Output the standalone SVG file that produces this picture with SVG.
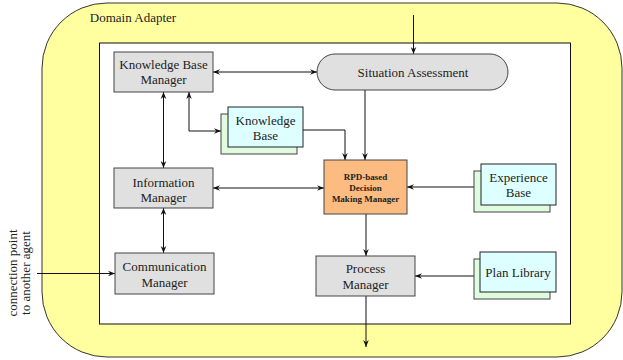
<svg xmlns="http://www.w3.org/2000/svg" width="623" height="360" viewBox="0 0 623 360">
<defs>
<style>
text{font-family:"Liberation Serif","Times New Roman",serif;font-size:13px;fill:#222;text-anchor:middle}
.box{fill:#e0e0e0;stroke:#444;stroke-width:1}
.front{fill:#ddffff;stroke:#222;stroke-width:1}
.back{fill:#e0fbe0;stroke:#444;stroke-width:1}
.rpd{fill:#fcbb80;stroke:#444;stroke-width:1}
.b{font-weight:bold;font-size:9px}
.c{fill:none;stroke:#111;stroke-width:1}
.a{marker-end:url(#ah)}
.d{marker-start:url(#ah);marker-end:url(#ah)}
</style>
<marker id="ah" viewBox="0 0 8 8" refX="8" refY="4" markerWidth="7" markerHeight="7" markerUnits="userSpaceOnUse" orient="auto-start-reverse">
<path d="M0,0.8 L8,4 L0,7.2 L2.6,4 Z" fill="#111"/>
</marker>
</defs>
<g id="domain-adapter">
<rect x="42" y="3" width="580" height="354" rx="65" ry="65" fill="#ffff9f" stroke="#333" stroke-width="1"/>
<text x="133" y="22" style="text-anchor:middle">Domain Adapter</text>
<rect x="99.5" y="43" width="471" height="281" fill="#fff" stroke="#111" stroke-width="1"/>
</g>
<g id="connectors">
<path class="c a" d="M413.5,15 V54"/>
<path class="c d" d="M213,72 H317"/>
<path class="c d" d="M163.5,92 V168"/>
<path class="c d" d="M189,92 V131 H221"/>
<path class="c a" d="M303,130 H345 V160"/>
<path class="c a" d="M365,90 V160"/>
<path class="c d" d="M213,188 H324"/>
<path class="c a" d="M474,187 H407"/>
<path class="c d" d="M163.5,208 V253"/>
<path class="c a" d="M37,273.5 H115"/>
<path class="c a" d="M366,214 V256"/>
<path class="c a" d="M474,276 H415"/>
<path class="c a" d="M366,296 V347"/>
</g>
<g id="kb-manager">
<rect class="box" x="114" y="52" width="99" height="40"/>
<text x="163.5" y="69">Knowledge Base</text>
<text x="163.5" y="84">Manager</text>
</g>
<g id="situation-assessment">
<rect class="box" x="317" y="54" width="191" height="36" rx="18" ry="18"/>
<text x="413" y="77">Situation Assessment</text>
</g>
<g id="knowledge-base">
<rect class="back" x="221" y="114" width="76" height="40"/>
<rect class="front" x="228" y="107" width="75" height="40"/>
<text x="265.5" y="125">Knowledge</text>
<text x="265.5" y="139.5">Base</text>
</g>
<g id="rpd-manager">
<rect class="rpd" x="324" y="160" width="83" height="54"/>
<text class="b" x="365.5" y="180">RPD-based</text>
<text class="b" x="365.5" y="191">Decision</text>
<text class="b" x="365.5" y="202">Making Manager</text>
</g>
<g id="experience-base">
<rect class="back" x="474" y="171" width="76" height="41"/>
<rect class="front" x="481" y="164" width="75" height="41"/>
<text x="518.5" y="182">Experience</text>
<text x="518.5" y="197">Base</text>
</g>
<g id="information-manager">
<rect class="box" x="114" y="168" width="99" height="40"/>
<text x="163.5" y="187">Information</text>
<text x="163.5" y="201.5">Manager</text>
</g>
<g id="communication-manager">
<rect class="box" x="115" y="253" width="99" height="41"/>
<text x="164.5" y="271">Communication</text>
<text x="164.5" y="287">Manager</text>
</g>
<g id="process-manager">
<rect class="box" x="316" y="256" width="99" height="40"/>
<text x="365.5" y="273">Process</text>
<text x="365.5" y="288.5">Manager</text>
</g>
<g id="plan-library">
<rect class="back" x="474" y="259" width="76" height="40"/>
<rect class="front" x="480" y="252" width="76" height="40"/>
<text x="518" y="277">Plan Library</text>
</g>
<g id="external-label">
<text transform="translate(16.5,273) rotate(-90)">connection point</text>
<text transform="translate(30,273) rotate(-90)">to another agent</text>
</g>
</svg>
